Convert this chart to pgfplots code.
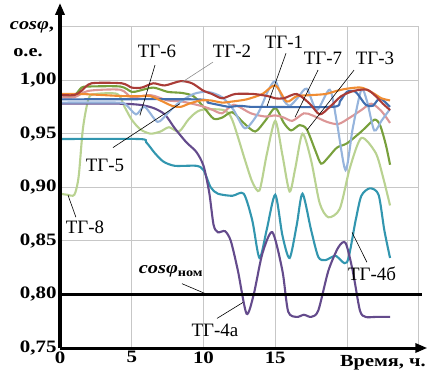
\documentclass[border=0pt]{standalone}
\usepackage{fontspec}
\setmainfont{Liberation Serif}
\newfontfamily\wideserif[FakeStretch=1.2]{Liberation Serif}
\usepackage{pgfplots}
\pgfplotsset{compat=1.18}
\usetikzlibrary{arrows.meta,calc}
\definecolor{cA}{RGB}{65,110,175}   % TG-1
\definecolor{cB}{RGB}{170,60,55}    % TG-2
\definecolor{cC}{RGB}{120,160,60}   % TG-3
\definecolor{cD}{RGB}{100,75,140}   % TG-4a
\definecolor{cE}{RGB}{50,150,175}   % TG-4b
\definecolor{cF}{RGB}{240,140,50}   % TG-5
\definecolor{cG}{RGB}{150,180,220}  % TG-6
\definecolor{cH}{RGB}{220,150,150}  % TG-7
\definecolor{cI}{RGB}{185,210,145}  % TG-8
\begin{document}
\begin{tikzpicture}
\begin{axis}[name=ax,
  width=358.75bp, height=321.5bp, scale only axis,
  xmin=0, xmax=25, ymin=0.75, ymax=1.05,
  xtick={0,5,10,15,20,25}, xticklabels={0,5,10,15,{},{}},
  ytick={0.75,0.80,0.85,0.90,0.95,1.00,1.05},
  yticklabels={{0,75},{0,80},{0,85},{0,90},{0,95},{1,00},{}},
  grid=major, grid style={black!22, line width=0.7bp},
  axis line style={black!22, line width=0.7bp},
  major tick length=0pt,
  tick label style={font=\wideserif\bfseries\fontsize{17.5}{17.5}\selectfont},
  xticklabel style={yshift=0bp},
  clip=false,
  every axis plot/.append style={smooth, tension=0.45, line width=2.1bp, no markers},
]
% TG-8
\addplot[cI] coordinates {(0,0.894)(0.5,0.893)(1.0,0.893)(1.3,0.91)(1.6,0.955)(2.0,0.983)(2.5,0.987)(4.0,0.987)(4.5,0.975)(5.0,0.963)(5.6,0.954)(6.3,0.950)(7.0,0.952)(7.6,0.956)(8.3,0.952)(9.0,0.964)(9.8,0.972)(11.4,0.972)(12.0,0.963)(12.9,0.925)(13.4,0.905)(13.9,0.897)(14.4,0.93)(15.0,0.962)(15.5,0.93)(16.0,0.896)(16.4,0.918)(16.9,0.950)(17.5,0.925)(18.1,0.885)(18.7,0.872)(19.5,0.88)(20.2,0.918)(21.0,0.946)(22.0,0.932)(22.5,0.91)(23,0.883)};
% TG-4b
\addplot[cE] coordinates {(0,0.945)(5.5,0.945)(6.0,0.942)(6.6,0.932)(7.2,0.924)(8,0.920)(9.5,0.920)(10.0,0.916)(10.5,0.900)(11.0,0.894)(12.0,0.892)(12.8,0.894)(13.4,0.869)(13.9,0.834)(14.4,0.86)(15.0,0.893)(15.5,0.855)(16.0,0.834)(16.5,0.865)(16.9,0.894)(17.5,0.86)(18.0,0.835)(18.5,0.832)(19.2,0.836)(20.0,0.830)(20.6,0.869)(21.0,0.892)(21.6,0.899)(22.2,0.893)(22.6,0.86)(23,0.834)};
% TG-4a
\addplot[cD] coordinates {(0,0.978)(4,0.978)(5.5,0.977)(6.5,0.974)(7.3,0.968)(8.0,0.955)(8.8,0.942)(9.5,0.933)(10.0,0.92)(10.4,0.895)(10.7,0.865)(11.0,0.858)(11.5,0.859)(11.9,0.85)(12.4,0.822)(13.0,0.782)(13.5,0.80)(14.1,0.838)(14.8,0.858)(15.5,0.822)(15.9,0.784)(16.5,0.779)(17.0,0.781)(17.5,0.779)(18.0,0.785)(18.7,0.822)(19.4,0.844)(19.9,0.848)(20.4,0.822)(20.9,0.785)(21.3,0.779)(22,0.779)(23,0.779)};
% TG-3
\addplot[cC] coordinates {(0,0.986)(1.0,0.986)(1.5,0.993)(2,0.994)(4.2,0.994)(5.0,0.989)(5.5,0.990)(6.5,0.993)(7.5,0.989)(8.5,0.988)(9.3,0.985)(10.0,0.975)(10.7,0.964)(11.3,0.965)(12.0,0.970)(12.8,0.960)(13.6,0.952)(14.3,0.962)(15.0,0.974)(15.6,0.960)(16.1,0.953)(16.7,0.958)(17.2,0.954)(17.8,0.934)(18.2,0.922)(18.7,0.928)(19.3,0.937)(20.0,0.941)(21.0,0.952)(21.9,0.963)(22.3,0.958)(22.7,0.94)(23,0.921)};
% TG-7
\addplot[cH] coordinates {(0,0.984)(1.0,0.984)(2.0,0.990)(4.2,0.991)(5.0,0.984)(6.3,0.986)(7.5,0.981)(8.5,0.980)(9.8,0.976)(10.5,0.973)(11.3,0.969)(12.1,0.977)(13.3,0.969)(14.3,0.966)(15.0,0.967)(15.6,0.965)(16.2,0.962)(17.0,0.969)(17.6,0.967)(18.6,0.961)(19.4,0.959)(20.2,0.965)(21.0,0.972)(21.7,0.978)(22.4,0.971)(23,0.96)};
% TG-6
\addplot[cG] coordinates {(0,0.979)(4.0,0.979)(4.6,0.977)(5.3,0.968)(5.9,0.975)(6.8,0.961)(7.5,0.969)(8.2,0.978)(9.3,0.987)(10.3,0.989)(11.3,0.984)(12.1,0.972)(12.9,0.955)(13.8,0.969)(14.5,0.99)(15.0,0.999)(15.5,0.983)(16.0,0.976)(16.6,0.984)(17.2,0.992)(17.9,0.972)(18.8,0.991)(19.3,0.96)(19.9,0.916)(20.4,0.955)(21.0,0.991)(21.4,0.98)(21.9,0.953)(22.4,0.962)(23,0.973)};
% TG-1
\addplot[cA] coordinates {(0,0.982)(9.5,0.982)(10.3,0.979)(11.0,0.977)(11.8,0.975)(12.5,0.976)(13.3,0.975)(14.0,0.975)(19.0,0.975)(19.5,0.980)(20.0,0.989)(20.6,0.989)(21.3,0.977)(21.8,0.976)(22.3,0.983)(23,0.975)};
% TG-5
\addplot[cF] coordinates {(0,0.987)(1.5,0.987)(3.0,0.986)(4.5,0.985)(5.5,0.985)(6.3,0.985)(7.0,0.981)(7.8,0.976)(8.4,0.975)(9.0,0.978)(9.8,0.981)(10.5,0.981)(11.3,0.979)(12.0,0.980)(13.0,0.982)(14.1,0.987)(15.0,0.995)(15.8,0.980)(16.5,0.985)(17.5,0.986)(18.5,0.987)(19.3,0.99)(20.0,0.992)(21.0,0.993)(21.8,0.988)(22.4,0.983)(23,0.981)};
% TG-2
\addplot[cB] coordinates {(0,0.986)(1.0,0.986)(1.5,0.990)(2.2,0.997)(4.3,0.997)(5.0,0.993)(5.7,0.993)(6.5,0.997)(7.3,0.995)(8.4,0.999)(9.2,0.997)(10.0,0.990)(10.6,0.987)(11.3,0.983)(12.2,0.987)(13.5,0.987)(14.5,0.985)(15.0,0.983)(15.6,0.983)(16.5,0.987)(17.4,0.978)(18.1,0.968)(18.8,0.975)(19.6,0.985)(20.5,0.990)(21.4,0.991)(22.0,0.985)(22.5,0.978)(23,0.972)};
% nominal line
\addplot[black, line width=2.6bp, sharp plot] coordinates {(0,0.80)(25.2,0.80)};
% axes
\draw[black, line width=3.2bp, -{Triangle[length=12bp,width=9bp]}] (axis cs:0,0.75) -- (axis cs:0,1.072);
\draw[black, line width=3.0bp, -{Triangle[length=12bp,width=9bp]}] (axis cs:0,0.75) -- (axis cs:25.6,0.75);
% leaders
\draw[black, line width=0.6bp] (axis cs:6.62,1.014) -- (axis cs:5.57,0.967);
\draw[black!45, line width=0.6bp] (axis cs:10.66,1.0168) -- (axis cs:8.50,0.998);
\draw[black, line width=0.6bp] (axis cs:3.69,0.937) -- (axis cs:8.36,0.978);
\draw[black, line width=0.6bp] (axis cs:15.75,1.025) -- (axis cs:14.43,0.9757);
\draw[black, line width=0.6bp] (axis cs:17.98,1.0093) -- (axis cs:16.38,0.9654);
\draw[black, line width=0.6bp] (axis cs:20.49,1.0093) -- (axis cs:17.21,0.9533);
\draw[black, line width=0.6bp] (axis cs:0.56,0.8925) -- (axis cs:1.11,0.872);
\draw[black, line width=0.6bp] (axis cs:8.5,0.810) -- (axis cs:10.1,0.8009);
\draw[black, line width=0.6bp] (axis cs:10.94,0.7776) -- (axis cs:12.75,0.7925);
\draw[black, line width=0.6bp] (axis cs:21.39,0.830) -- (axis cs:20.35,0.858);
% labels
\begin{scope}[every node/.style={font=\fontsize{19}{19}\selectfont, inner sep=0pt}]
\node at (axis cs:6.76,1.027) {ТГ-6};
\node at (axis cs:11.99,1.027) {ТГ-2};
\node at (axis cs:15.61,1.0355) {ТГ-1};
\node at (axis cs:18.33,1.0206) {ТГ-7};
\node at (axis cs:21.95,1.0206) {ТГ-3};
\node at (axis cs:3.14,0.9206) {ТГ-5};
\node at (axis cs:1.74,0.8626) {ТГ-8};
\node at (axis cs:10.8,0.766) {ТГ-4а};
\node at (axis cs:21.74,0.8196) {ТГ-4б};
\end{scope}
\node[inner sep=0pt, font=\wideserif\bfseries\fontsize{17}{17}\selectfont] at (axis cs:7.74,0.8215) {\textit{cosφ}\textsubscript{ном}};
\node[inner sep=0pt, font=\wideserif\bfseries\fontsize{17}{17}\selectfont] at (axis cs:-1.95,1.0495) {\textit{cosφ},};
\node[inner sep=0pt, font=\wideserif\bfseries\fontsize{17}{17}\selectfont] at (axis cs:-2.23,1.026) {о.е.};
\node[inner sep=0pt, font=\wideserif\bfseries\fontsize{17}{17}\selectfont] at (axis cs:22.5,0.7364) {Время, ч.};
\end{axis}
\pgfresetboundingbox
\path ($(ax.south west)+(-60bp,-24bp)$) rectangle ($(ax.north east)+(8.25bp,26.5bp)$);
\end{tikzpicture}
\end{document}
